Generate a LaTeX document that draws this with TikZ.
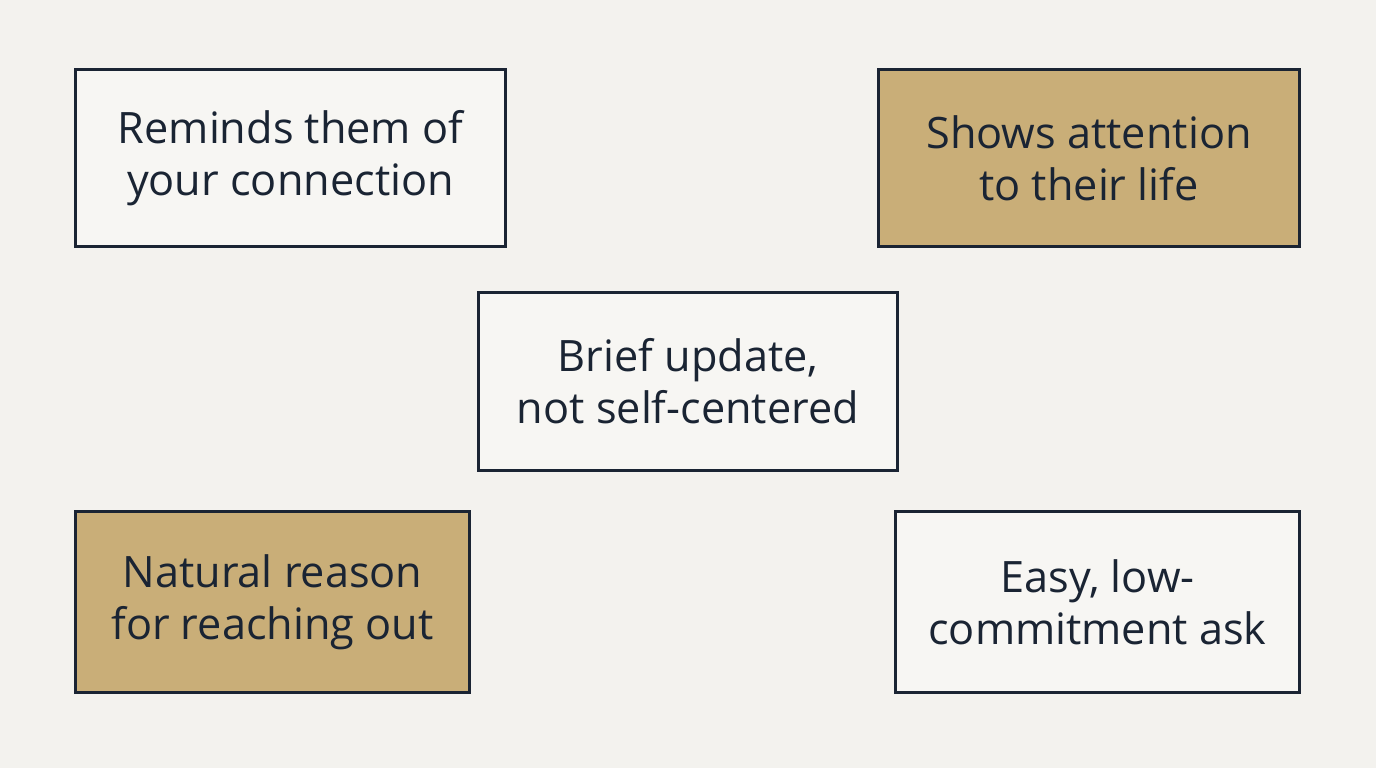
\documentclass[tikz,border=0pt]{standalone}
\usepackage{fontspec}
\setmainfont{Open Sans}
\usetikzlibrary{positioning}
\definecolor{bgpaper}{HTML}{F3F2EE}
\definecolor{inkline}{HTML}{1A2433}
\definecolor{tanfill}{HTML}{C9AE78}
\begin{document}
\begin{tikzpicture}[x=0.01cm,y=-0.01cm]
  % Styles
  \tikzset{
    card/.style={draw=inkline,line width=0.03cm,fill=white!30!bgpaper,align=center,
      text=inkline,font=\fontsize{12.3pt}{14.8pt}\selectfont,inner sep=0pt},
    accent/.style={card,fill=tanfill}
  }
  % Background
  \fill[bgpaper] (0,0) rectangle (1376,768);
  \useasboundingbox (0,0) rectangle (1376,768);

  % Cards
  \node[card,minimum width=4.29cm,minimum height=1.76cm] (remind) at (290.5,158)
    {Reminds them of\\your connection};
  \node[accent,minimum width=4.20cm,minimum height=1.76cm] (attention) at (1089,158)
    {Shows attention\\to their life};
  \node[card,minimum width=4.18cm,minimum height=1.77cm] (update) at (688,381.5)
    {Brief update,\\not self-centered};
  \node[accent,minimum width=3.93cm,minimum height=1.80cm] (reason) at (272.5,602)
    {Natural reason\\for reaching out};
  \node[card,minimum width=4.03cm,minimum height=1.80cm] (ask) at (1097.5,602)
    {Easy, low-\\commitment ask};
\end{tikzpicture}
\end{document}
